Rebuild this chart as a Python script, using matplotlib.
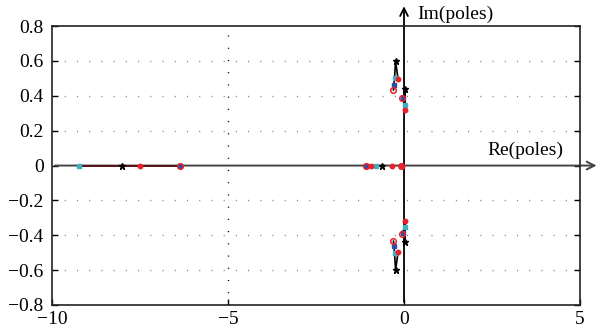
import numpy as np
import matplotlib.pyplot as plt

plt.rcParams['font.family'] = ['Liberation Serif', 'DejaVu Serif']

# pole sets (one per parameter value): real poles and upper complex poles
circ_real = [-6.36, -1.09, -0.09]
circ_cplx = [(-0.30, 0.434), (-0.05, 0.39)]
blue_real = [-6.36, -1.09]
blue_cplx = [(-0.29, 0.46), (-0.04, 0.385)]
cyan_real = [-9.23, -0.80]
cyan_cplx = [(-0.27, 0.50), (0.02, 0.35)]
black_real = [-8.0, -0.62]
black_cplx = [(-0.24, 0.60), (0.02, 0.44)]
red_real = [-7.5, -0.95, -0.33, -0.05]
red_cplx = [(-0.17, 0.497), (0.04, 0.32)]

# branch trajectories (connected in order)
branch1 = [circ_cplx[0], blue_cplx[0], cyan_cplx[0], black_cplx[0], red_cplx[0]]
branch2 = [circ_cplx[1], blue_cplx[1], cyan_cplx[1], black_cplx[1], red_cplx[1]]
real_branch = [cyan_real[0], black_real[0], red_real[0], circ_real[0]]

fig = plt.figure(figsize=(6, 3.35), dpi=100)
ax = fig.add_axes([0.0867, 0.0896, 0.88, 0.8324])
ax.set_xlim(-10, 5)
ax.set_ylim(-0.8, 0.8)

for yv in [-0.6, -0.4, -0.2, 0.2, 0.4, 0.6]:
    ax.axhline(yv, color='#888888', lw=1.0, ls=(0, (0.8, 8)), zorder=1)
ax.axvline(-5, color='black', lw=1.0, ls=(0, (0.8, 8)), zorder=1)

# axes through origin with arrows
ax.annotate('', xy=(5.55, 0), xytext=(-10, 0), xycoords='data',
            arrowprops=dict(arrowstyle='->', color='#444444', lw=1.4, mutation_scale=14),
            annotation_clip=False, zorder=2)
ax.annotate('', xy=(0, 0.93), xytext=(0, -0.8), xycoords='data',
            arrowprops=dict(arrowstyle='->', color='black', lw=1.3, mutation_scale=14),
            annotation_clip=False, zorder=2)
ax.text(0.38, 0.87, 'Im(poles)', fontsize=14, ha='left', va='center')
ax.text(2.38, 0.09, 'Re(poles)', fontsize=14, ha='left', va='center')

# trajectories
ax.plot(real_branch, [0] * len(real_branch), color='#5a1414', lw=1.4, zorder=3)
for br in (branch1, branch2):
    xs = [p[0] for p in br]
    ys = [p[1] for p in br]
    ax.plot(xs, ys, color='black', lw=1.2, zorder=3)
    ax.plot(xs, [-y for y in ys], color='black', lw=1.2, zorder=3)

def draw(real, cplx, **kw):
    xs = list(real) + [p[0] for p in cplx] + [p[0] for p in cplx]
    ys = [0] * len(real) + [p[1] for p in cplx] + [-p[1] for p in cplx]
    ax.plot(xs, ys, ls='none', zorder=4, **kw)

draw(blue_real, blue_cplx, marker='s', ms=2.5, color='#2b4fa8')
draw(cyan_real, cyan_cplx, marker='s', ms=2.5, color='#3fb0c0')
draw(circ_real, circ_cplx, marker='o', ms=4, mfc='none', mec='#e8202a', mew=1.1)
draw(black_real, black_cplx, marker='*', ms=5, color='black')
draw(red_real, red_cplx, marker='o', ms=3.2, color='#e8202a')

ax.set_xticks([-10, -5, 0, 5])
ax.set_xticklabels(['\u221210', '\u22125', '0', '5'])
ax.set_yticks(np.arange(-0.8, 0.81, 0.2))
ax.set_yticklabels(['\u22120.8', '\u22120.6', '\u22120.4', '\u22120.2', '0', '0.2', '0.4', '0.6', '0.8'])
ax.tick_params(direction='in', length=4, width=1, labelsize=14, right=True, top=False)
ax.tick_params(axis='y', pad=6)
ax.tick_params(axis='x', pad=4)
for s in ax.spines.values():
    s.set_linewidth(1.2)
    s.set_color('#222222')

fig.savefig('out.png', dpi=100)
